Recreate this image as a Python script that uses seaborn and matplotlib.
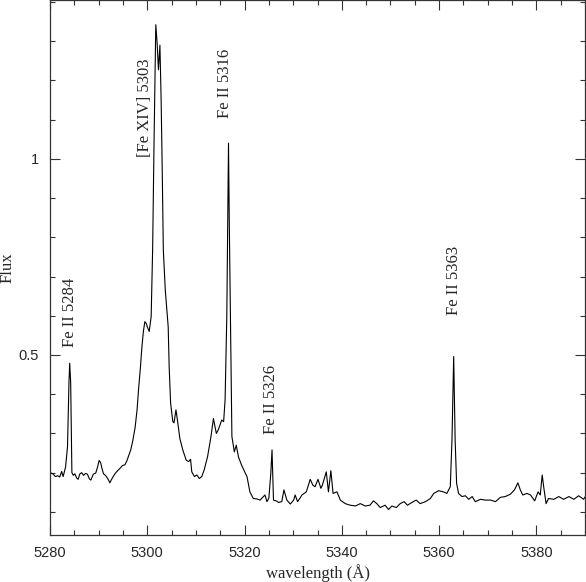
import numpy as np
import pandas as pd
import matplotlib
matplotlib.use('Agg')
import matplotlib.pyplot as plt
import seaborn as sns
from matplotlib.ticker import MultipleLocator

# spectrum
wavelength = [
    5280.0, 5280.6, 5281.1, 5281.6, 5282.0, 5282.4, 5282.7, 5283.2, 5283.6, 5283.9,
    5284.05, 5284.25, 5284.5, 5284.8, 5285.1, 5285.5, 5285.8, 5286.1, 5286.5, 5286.9,
    5287.3, 5287.7, 5288.1, 5288.4, 5288.9, 5289.4, 5289.8, 5290.1, 5290.4, 5290.7,
    5291.0, 5291.4, 5291.7, 5292.0, 5292.3, 5292.8, 5293.4, 5293.9, 5294.4, 5294.9,
    5295.4, 5295.8, 5296.2, 5296.6, 5297.0, 5297.5, 5297.9, 5298.2, 5298.6, 5298.9,
    5299.2, 5299.5, 5299.8, 5300.0, 5300.4, 5300.8, 5301.1, 5301.4, 5301.75, 5302.0,
    5302.3, 5302.6, 5302.85, 5303.1, 5303.3, 5303.7, 5304.0, 5304.3, 5304.5, 5304.8,
    5305.25, 5305.5, 5305.9, 5306.2, 5306.7, 5307.3, 5308.0, 5308.5, 5308.9, 5309.15,
    5309.7, 5310.2, 5310.7, 5311.2, 5311.7, 5312.4, 5313.1, 5313.6, 5314.2, 5314.6,
    5315.3, 5315.7, 5316.0, 5316.35, 5316.55, 5316.7, 5316.85, 5317.0, 5317.2, 5317.4,
    5317.9, 5318.3, 5318.75, 5319.4, 5320.1, 5320.5, 5321.1, 5321.8, 5322.5, 5323.2,
    5323.8, 5324.2, 5324.6, 5325.0, 5325.4, 5325.65, 5325.95, 5326.5, 5327.0, 5327.65,
    5328.1, 5328.7, 5329.4, 5330.1, 5330.4, 5330.9, 5331.4, 5331.8, 5332.7, 5333.5,
    5334.05, 5334.5, 5335.1, 5335.7, 5336.0, 5336.8, 5337.25, 5337.75, 5338.2, 5339.0,
    5339.7, 5340.7, 5341.7, 5342.8, 5343.8, 5344.8, 5345.8, 5346.5, 5347.2, 5347.9,
    5348.9, 5349.6, 5350.3, 5351.2, 5352.0, 5352.8, 5353.5, 5354.4, 5355.3, 5356.1,
    5357.2, 5358.2, 5358.9, 5359.9, 5360.9, 5361.6, 5362.3, 5362.65, 5363.0, 5363.3,
    5363.6, 5364.0, 5364.7, 5365.4, 5366.1, 5366.8, 5367.45, 5368.5, 5369.5, 5370.6,
    5371.6, 5372.6, 5373.6, 5374.65, 5375.5, 5376.2, 5376.7, 5377.2, 5378.1, 5378.8,
    5379.65, 5380.35, 5380.8, 5381.2, 5381.5, 5382.0, 5382.5, 5383.6, 5384.6, 5385.6,
    5386.7, 5387.7, 5388.7, 5389.7, 5390.0,
]
flux = [
    0.200, 0.197, 0.190, 0.192, 0.189, 0.203, 0.190, 0.214, 0.266, 0.430,
    0.479, 0.430, 0.200, 0.193, 0.197, 0.186, 0.183, 0.196, 0.200, 0.193,
    0.198, 0.196, 0.184, 0.181, 0.196, 0.199, 0.215, 0.231, 0.226, 0.210,
    0.197, 0.193, 0.188, 0.182, 0.174, 0.186, 0.198, 0.205, 0.211, 0.218,
    0.220, 0.230, 0.244, 0.258, 0.280, 0.315, 0.360, 0.411, 0.470, 0.521,
    0.560, 0.585, 0.580, 0.572, 0.560, 0.598, 0.768, 1.050, 1.342, 1.300,
    1.227, 1.290, 1.150, 0.950, 0.768, 0.666, 0.620, 0.572, 0.470, 0.377,
    0.330, 0.327, 0.360, 0.334, 0.287, 0.258, 0.232, 0.228, 0.234, 0.202,
    0.190, 0.194, 0.185, 0.190, 0.207, 0.241, 0.292, 0.338, 0.300, 0.309,
    0.334, 0.330, 0.385, 0.598, 0.850, 1.040, 0.850, 0.700, 0.513, 0.292,
    0.253, 0.270, 0.240, 0.219, 0.200, 0.190, 0.151, 0.134, 0.133, 0.130,
    0.138, 0.143, 0.126, 0.135, 0.198, 0.258, 0.130, 0.128, 0.124, 0.126,
    0.156, 0.130, 0.120, 0.130, 0.143, 0.126, 0.135, 0.143, 0.151, 0.183,
    0.168, 0.164, 0.183, 0.160, 0.168, 0.202, 0.151, 0.205, 0.147, 0.151,
    0.130, 0.121, 0.117, 0.115, 0.121, 0.115, 0.117, 0.128, 0.121, 0.111,
    0.117, 0.106, 0.115, 0.111, 0.121, 0.126, 0.117, 0.124, 0.130, 0.121,
    0.126, 0.134, 0.147, 0.154, 0.151, 0.147, 0.164, 0.283, 0.496, 0.283,
    0.173, 0.147, 0.139, 0.141, 0.132, 0.139, 0.126, 0.132, 0.130, 0.130,
    0.126, 0.137, 0.139, 0.145, 0.156, 0.174, 0.156, 0.143, 0.147, 0.143,
    0.128, 0.151, 0.143, 0.194, 0.164, 0.121, 0.134, 0.132, 0.139, 0.132,
    0.139, 0.132, 0.141, 0.132, 0.138,
]

# line identifications: label, x, y (bottom of the text)
line_labels = ['Fe II 5284', '[Fe XIV] 5303', 'Fe II 5316', 'Fe II 5326', 'Fe II 5363']
label_x = [5284.1, 5299.5, 5316.0, 5325.4, 5363.1]
label_y = [0.52, 1.005, 1.104, 0.298, 0.602]

df = pd.DataFrame({'wavelength': wavelength, 'flux': flux})

sns.set_style('ticks')
plt.rcParams['font.family'] = ['Liberation Sans', 'DejaVu Sans']
serif = ['Liberation Serif', 'DejaVu Serif']

fig = plt.figure(figsize=(5.86, 5.82), dpi=100)
ax = fig.add_axes([50 / 586, 47 / 582, 535 / 586, 535 / 582])

sns.lineplot(data=df, x='wavelength', y='flux', ax=ax, color='black',
             linewidth=0.8, sort=False, estimator=None)

for lab, lx, ly in zip(line_labels, label_x, label_y):
    ax.text(lx, ly, lab, rotation=90, ha='center', va='bottom',
            fontsize=12, family=serif)

ax.set_xlim(5280, 5390)
ax.set_ylim(0.041, 1.405)
ax.xaxis.set_major_locator(MultipleLocator(20))
ax.xaxis.set_minor_locator(MultipleLocator(5))
ax.yaxis.set_major_locator(MultipleLocator(0.5))
ax.yaxis.set_minor_locator(MultipleLocator(0.1))
ax.set_yticks([0.5, 1])
ax.set_yticklabels(['0.5', '1'])

ax.tick_params(which='both', direction='in', top=True, right=True,
               labelsize=10.5, color='#333333')
ax.tick_params(which='major', length=7, width=0.8, pad=8)
ax.tick_params(which='minor', length=3.5, width=0.8)
for sp in ax.spines.values():
    sp.set_linewidth(0.9)
    sp.set_color('#333333')

ax.set_xlabel('wavelength (Å)', family=serif, fontsize=12)
ax.set_ylabel('Flux', family=serif, fontsize=12)
ax.xaxis.label.set_va('center')
ax.yaxis.label.set_va('center')
ax.xaxis.set_label_coords(0.5, -0.071)
ax.yaxis.set_label_coords(-0.080, 0.5)

fig.savefig('out.png', dpi=100)
